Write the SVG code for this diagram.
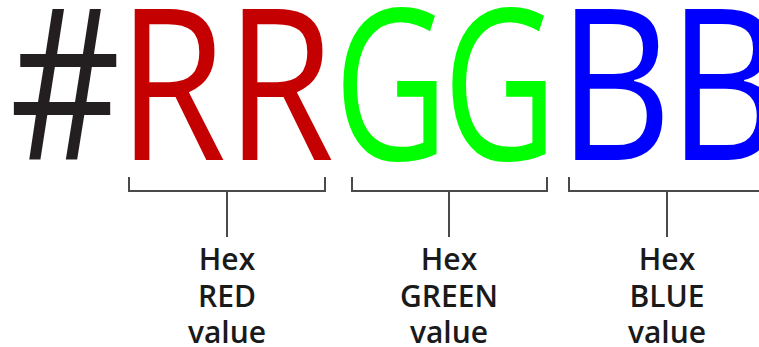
<svg xmlns="http://www.w3.org/2000/svg" width="759" height="347" viewBox="0 0 759 347">
<style>
.big{font-family:"Open Sans","Liberation Sans",sans-serif;font-size:210px;font-weight:400;text-anchor:middle}
.lbl{font-family:"Open Sans","Liberation Sans",sans-serif;font-size:30px;font-weight:600;fill:#1a1a1a;text-anchor:middle}
.br{fill:none;stroke:#4a4a4a;stroke-width:2}
</style>
<rect width="759" height="347" fill="#fff"/>
<g id="hash"><text class="big" transform="translate(65,160) scale(0.82,1)" fill="#231f20">#</text></g>
<g id="red" fill="#c40000">
<text class="big" transform="translate(172,160) scale(0.84,1)">R</text>
<text class="big" transform="translate(280,160) scale(0.84,1)">R</text>
<text class="lbl" x="227" y="270">Hex</text><text class="lbl" x="227" y="307">RED</text><text class="lbl" x="227" y="343">value</text>
</g>
<g id="green" fill="#00ff00">
<text class="big" transform="translate(391,160) scale(0.75,1)">G</text>
<text class="big" transform="translate(500,160) scale(0.75,1)">G</text>
<text class="lbl" x="449" y="270">Hex</text><text class="lbl" x="449" y="307">GREEN</text><text class="lbl" x="449" y="343">value</text>
</g>
<g id="blue" fill="#0000ff">
<text class="big" transform="translate(615,160) scale(0.84,1)">B</text>
<text class="big" transform="translate(725,160) scale(0.84,1)">B</text>
<text class="lbl" x="667" y="270">Hex</text><text class="lbl" x="667" y="307">BLUE</text><text class="lbl" x="667" y="343">value</text>
</g>
<g id="connectors">
<path class="br" d="M129,177V191H325V177M227,191V237"/>
<path class="br" d="M352,177V191H547V177M449,191V237"/>
<path class="br" d="M569,177V191H760M667,191V237"/>
</g>
</svg>
